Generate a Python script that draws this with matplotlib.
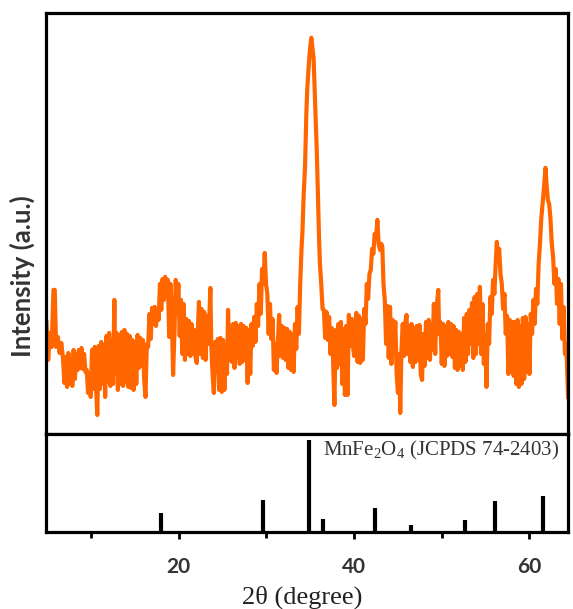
import matplotlib
matplotlib.use('Agg')
import matplotlib.pyplot as plt

two_theta = [4.9, 5.1, 5.3, 5.5, 5.7, 5.85, 6.0, 6.2, 6.4, 6.6,
             6.8, 6.95, 7.1, 7.25, 7.4, 7.55, 7.7, 7.85, 8.0, 8.15,
             8.3, 8.45, 8.6, 8.75, 8.9, 9.05, 9.2, 9.35, 9.5, 9.65,
             9.8, 9.95, 10.1, 10.25, 10.4, 10.55, 10.7, 10.85, 11.0, 11.15,
             11.3, 11.45, 11.6, 11.75, 11.9, 12.05, 12.2, 12.35, 12.5, 12.65,
             12.75, 12.9, 13.05, 13.2, 13.35, 13.5, 13.65, 13.8, 13.95, 14.1,
             14.25, 14.4, 14.55, 14.7, 14.85, 15.0, 15.15, 15.3, 15.45, 15.6,
             15.75, 15.9, 16.05, 16.2, 16.35, 16.5, 16.65, 16.8, 16.95, 17.1,
             17.25, 17.4, 17.55, 17.7, 17.85, 18.0, 18.15, 18.3, 18.45, 18.6,
             18.75, 18.9, 19.05, 19.2, 19.35, 19.5, 19.65, 19.8, 19.95, 20.1,
             20.25, 20.4, 20.55, 20.7, 20.85, 21.0, 21.15, 21.3, 21.45, 21.6,
             21.75, 21.9, 22.05, 22.2, 22.3, 22.45, 22.6, 22.75, 22.9, 23.05,
             23.2, 23.35, 23.5, 23.6, 23.7, 23.85, 24.0, 24.15, 24.3, 24.45,
             24.6, 24.75, 24.9, 25.05, 25.2, 25.35, 25.5, 25.62, 25.75, 25.9,
             26.05, 26.2, 26.35, 26.5, 26.65, 26.8, 26.95, 27.1, 27.25, 27.4,
             27.55, 27.7, 27.85, 28.0, 28.15, 28.3, 28.45, 28.6, 28.75, 28.9,
             29.05, 29.2, 29.35, 29.5, 29.65, 29.8, 29.95, 30.1, 30.25, 30.4,
             30.55, 30.7, 30.85, 31.0, 31.15, 31.3, 31.45, 31.6, 31.75, 31.9,
             32.05, 32.2, 32.35, 32.5, 32.65, 32.8, 32.95, 33.1, 33.25, 33.4,
             33.55, 33.7, 33.85, 34.0, 34.1, 34.25, 34.4, 34.55, 34.65, 34.8,
             34.93, 35.05, 35.12, 35.25, 35.38, 35.5, 35.61, 35.75, 35.9, 36.0,
             36.1, 36.25, 36.4, 36.55, 36.7, 36.85, 37.0, 37.15, 37.3, 37.45,
             37.6, 37.75, 37.9, 38.05, 38.2, 38.35, 38.5, 38.65, 38.8, 38.95,
             39.1, 39.25, 39.4, 39.55, 39.7, 39.85, 40.0, 40.15, 40.25, 40.4,
             40.55, 40.7, 40.85, 41.0, 41.15, 41.3, 41.45, 41.6, 41.75, 41.9,
             42.05, 42.2, 42.35, 42.5, 42.65, 42.8, 42.95, 43.1, 43.22, 43.35,
             43.5, 43.65, 43.8, 43.95, 44.1, 44.25, 44.4, 44.55, 44.7, 44.85,
             45.0, 45.15, 45.26, 45.4, 45.55, 45.7, 45.85, 45.98, 46.1, 46.25,
             46.4, 46.55, 46.7, 46.85, 47.0, 47.15, 47.3, 47.45, 47.6, 47.75,
             47.9, 48.05, 48.2, 48.35, 48.5, 48.65, 48.8, 48.95, 49.1, 49.25,
             49.4, 49.6, 49.7, 49.85, 50.0, 50.15, 50.3, 50.45, 50.6, 50.75,
             50.9, 51.05, 51.2, 51.35, 51.5, 51.65, 51.8, 51.95, 52.1, 52.25,
             52.4, 52.55, 52.7, 52.85, 53.0, 53.15, 53.3, 53.45, 53.6, 53.75,
             53.9, 54.05, 54.2, 54.35, 54.5, 54.65, 54.8, 54.95, 55.1, 55.25,
             55.4, 55.55, 55.7, 55.85, 56.0, 56.15, 56.28, 56.4, 56.55, 56.7,
             56.85, 57.0, 57.15, 57.3, 57.45, 57.6, 57.75, 57.9, 58.05, 58.2,
             58.35, 58.5, 58.65, 58.8, 58.95, 59.1, 59.25, 59.4, 59.55, 59.7,
             59.85, 60.0, 60.15, 60.3, 60.45, 60.6, 60.75, 60.9, 61.05, 61.2,
             61.35, 61.5, 61.65, 61.83, 61.95, 62.1, 62.25, 62.4, 62.55, 62.7,
             62.85, 63.0, 63.15, 63.3, 63.45, 63.6, 63.75, 63.9, 64.05, 64.2,
             64.35, 64.41]
intensity = [112, 74, 101, 87, 144, 144, 87, 97, 81, 91,
             74, 51, 77, 47, 81, 50, 74, 48, 84, 55,
             80, 64, 84, 66, 86, 65, 80, 62, 64, 41,
             60, 37, 84, 45, 87, 50, 19, 88, 45, 92,
             50, 89, 37, 98, 52, 101, 48, 95, 50, 134,
             60, 101, 44, 99, 50, 102, 48, 104, 52, 100,
             47, 98, 46, 94, 44, 92, 50, 99, 66, 96,
             68, 94, 55, 37, 90, 87, 120, 95, 126, 110,
             127, 108, 125, 114, 150, 124, 155, 134, 157, 140,
             154, 97, 150, 120, 59, 100, 154, 120, 150, 98,
             134, 80, 130, 74, 115, 80, 113, 78, 110, 80,
             104, 77, 71, 110, 132, 80, 125, 76, 122, 74,
             118, 90, 120, 146, 90, 60, 41, 92, 62, 95,
             44, 96, 42, 94, 44, 88, 60, 124, 74, 108,
             72, 110, 66, 111, 76, 108, 70, 110, 72, 108,
             74, 106, 51, 104, 60, 110, 88, 117, 92, 130,
             108, 150, 120, 165, 150, 181, 150, 140, 100, 130,
             95, 115, 64, 90, 61, 92, 119, 78, 108, 76,
             106, 74, 105, 66, 102, 64, 100, 62, 110, 85,
             127, 100, 150, 185, 201, 240, 267, 320, 344, 365,
             381, 390, 396, 385, 375, 345, 320, 280, 230, 195,
             170, 150, 125, 124, 96, 122, 94, 117, 80, 106,
             74, 29, 104, 66, 110, 70, 112, 50, 105, 39,
             108, 39, 119, 88, 115, 90, 78, 112, 121, 72,
             118, 71, 115, 74, 125, 110, 150, 135, 160, 164,
             185, 180, 200, 195, 214, 190, 184, 190, 187, 150,
             134, 90, 128, 76, 127, 70, 114, 87, 112, 60,
             41, 80, 21, 84, 110, 78, 112, 119, 80, 108,
             72, 110, 67, 106, 72, 108, 74, 109, 60, 54,
             100, 68, 112, 76, 114, 74, 110, 84, 130, 80,
             125, 144, 100, 112, 70, 110, 68, 108, 78, 112,
             80, 110, 77, 108, 66, 104, 64, 102, 68, 100,
             64, 116, 72, 120, 80, 124, 90, 131, 76, 137,
             80, 140, 90, 147, 80, 130, 70, 100, 47, 110,
             90, 137, 120, 154, 140, 170, 192, 180, 185, 160,
             150, 125, 140, 100, 118, 60, 114, 62, 112, 58,
             112, 50, 114, 47, 108, 50, 116, 55, 117, 62,
             110, 60, 120, 100, 134, 110, 145, 130, 170, 190,
             215, 230, 245, 266, 250, 234, 230, 215, 190, 177,
             150, 165, 130, 155, 110, 150, 95, 127, 80, 90,
             50, 37]

# reference pattern MnFe2O4 (JCPDS 74-2403)
ref_pos = [17.98, 29.61, 34.85, 36.44, 42.37, 46.44, 52.63, 56.05, 61.56]
ref_int = [20.7, 34.8, 100, 13.8, 26.4, 7.6, 13.0, 33.7, 39.5]

plt.rcParams['mathtext.fontset'] = 'custom'
plt.rcParams['mathtext.rm'] = 'Liberation Serif'
plt.rcParams['mathtext.it'] = 'Liberation Serif:italic'

fig = plt.figure(figsize=(5.73, 6.09), dpi=100)
left, right = 46/573, 568/573
axTop = fig.add_axes([left, 1-434/609, right-left, (434-12.7)/609])
axBot = fig.add_axes([left, 1-532/609, right-left, (532-434)/609])

axTop.plot(two_theta, intensity, color='#ff6600', lw=3, solid_joinstyle='round')
axTop.set_xlim(4.85, 64.4)
axTop.set_ylim(0, 421)
axTop.set_xticks([])
axTop.set_yticks([])

axBot.vlines(ref_pos, 0, ref_int, color='black', lw=3)
axBot.set_xlim(4.85, 64.4)
axBot.set_ylim(0, 106.5)
axBot.set_yticks([])
axBot.set_xticks([20, 40, 60])
axBot.set_xticks([10, 30, 50], minor=True)
axBot.tick_params(axis='x', which='major', direction='out', length=5, width=2, pad=13)
axBot.tick_params(axis='x', which='minor', direction='out', length=4, width=2)
for lab in axBot.get_xticklabels():
    lab.set_fontfamily('Lato')
    lab.set_fontweight('bold')
    lab.set_fontsize(15)
    lab.set_color('#333333')
axBot.text(36.41, 89, r'MnFe$_2$O$_4$ (JCPDS 74-2403)', family='Liberation Serif',
           fontsize=15, color='#333333', ha='left', va='center')

for ax in (axTop, axBot):
    for sp in ax.spines.values():
        sp.set_linewidth(2.3)

fig.text(22/573, 1-276/609, 'Intensity (a.u.)', rotation=90, ha='center', va='center',
         family='Lato', fontweight='bold', fontsize=18.5, color='#333333')
fig.text(302/573, 1-597/609, '2\u03b8 (degree)', ha='center', va='center',
         family='Liberation Serif', fontsize=19, color='#222222')

plt.savefig('out.png', dpi=100)
